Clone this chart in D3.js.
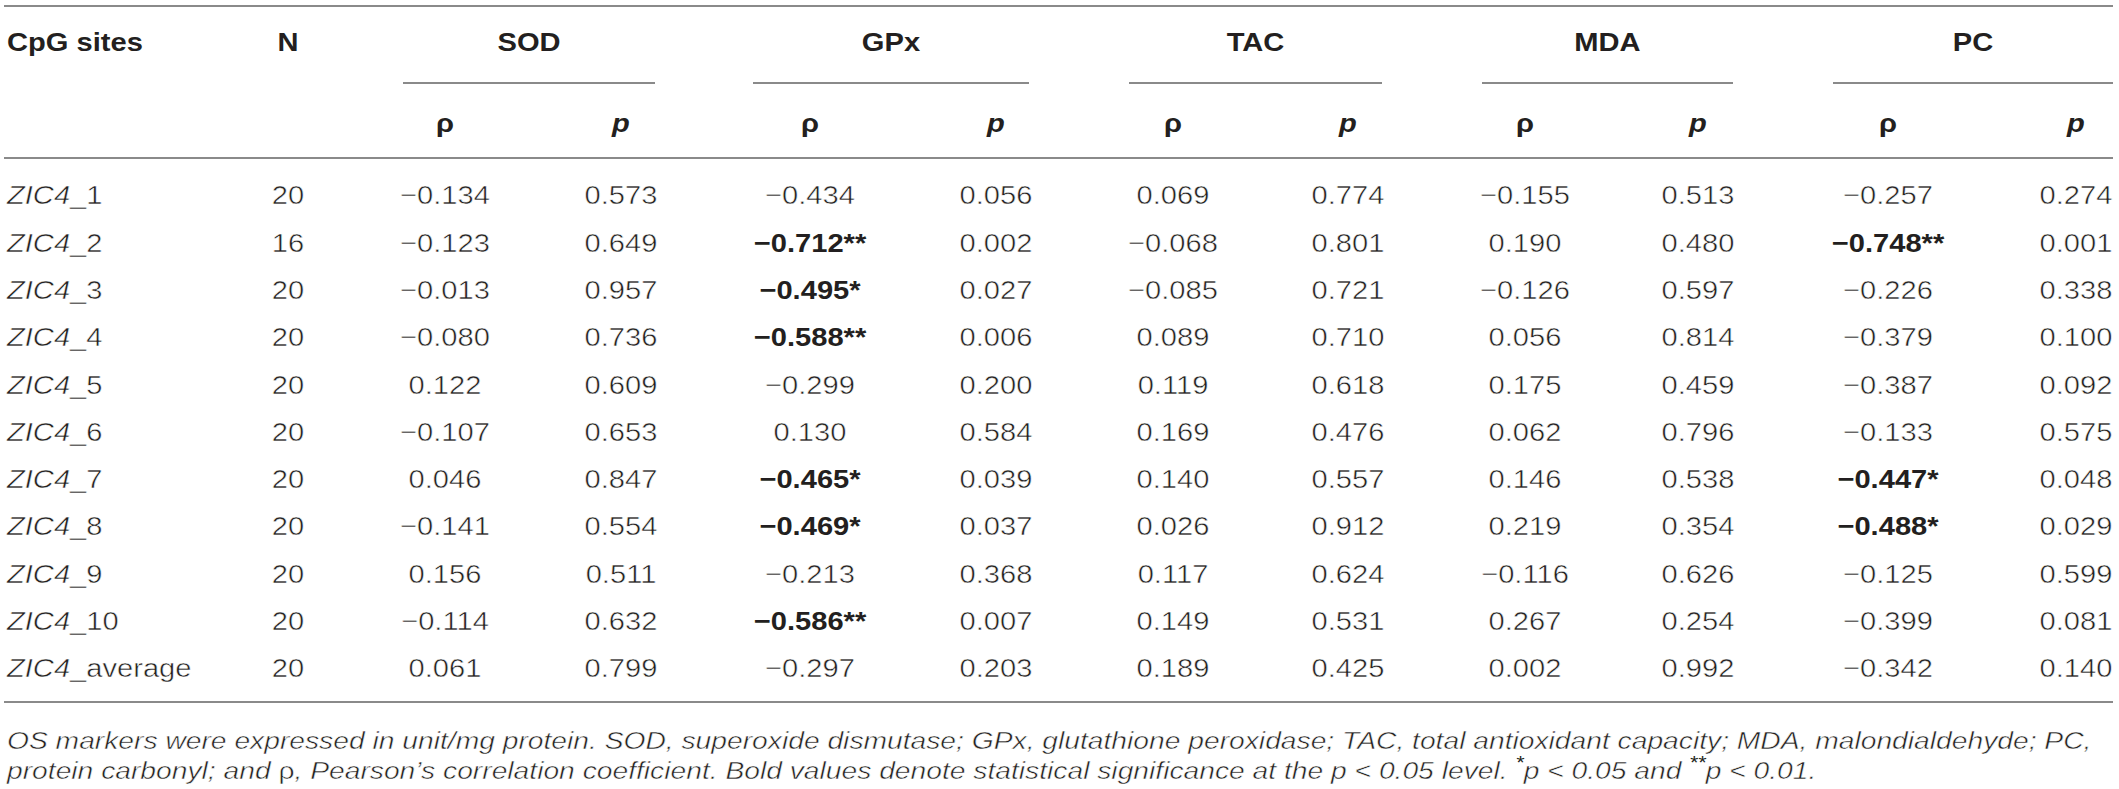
<!DOCTYPE html>
<html>
<head>
<meta charset="utf-8">
<script src="https://cdn.jsdelivr.net/npm/d3@7"></script>
<style>
  body { margin: 0; background: #fff; }
  svg { display: block; }
  text { font-family: "Liberation Sans", Arial, Helvetica, sans-serif; fill: #231f20; }
  /* the picture uses a light cut; thin the regular glyphs a little */
  .light { stroke: #fff; stroke-width: 0.5px; }
  .sup { stroke: none; }
</style>
</head>
<body>
<script>
// table data
const sites = ["_1", "_2", "_3", "_4", "_5", "_6", "_7", "_8", "_9", "_10", "_average"];
const nValues = [20, 16, 20, 20, 20, 20, 20, 20, 20, 20, 20];
const markers = ["SOD", "GPx", "TAC", "MDA", "PC"];

const sodRho = [-0.134, -0.123, -0.013, -0.080, 0.122, -0.107, 0.046, -0.141, 0.156, -0.114, 0.061];
const sodP   = [0.573, 0.649, 0.957, 0.736, 0.609, 0.653, 0.847, 0.554, 0.511, 0.632, 0.799];
const gpxRho = [-0.434, -0.712, -0.495, -0.588, -0.299, 0.130, -0.465, -0.469, -0.213, -0.586, -0.297];
const gpxP   = [0.056, 0.002, 0.027, 0.006, 0.200, 0.584, 0.039, 0.037, 0.368, 0.007, 0.203];
const tacRho = [0.069, -0.068, -0.085, 0.089, 0.119, 0.169, 0.140, 0.026, 0.117, 0.149, 0.189];
const tacP   = [0.774, 0.801, 0.721, 0.710, 0.618, 0.476, 0.557, 0.912, 0.624, 0.531, 0.425];
const mdaRho = [-0.155, 0.190, -0.126, 0.056, 0.175, 0.062, 0.146, 0.219, -0.116, 0.267, 0.002];
const mdaP   = [0.513, 0.480, 0.597, 0.814, 0.459, 0.796, 0.538, 0.354, 0.626, 0.254, 0.992];
const pcRho  = [-0.257, -0.748, -0.226, -0.379, -0.387, -0.133, -0.447, -0.488, -0.125, -0.399, -0.342];
const pcP    = [0.274, 0.001, 0.338, 0.100, 0.092, 0.575, 0.048, 0.029, 0.599, 0.081, 0.140];

const rhoByMarker = [sodRho, gpxRho, tacRho, mdaRho, pcRho];
const pByMarker = [sodP, gpxP, tacP, mdaP, pcP];

const note1 = "OS markers were expressed in unit/mg protein. SOD, superoxide dismutase; GPx, glutathione peroxidase; TAC, total antioxidant capacity; MDA, malondialdehyde; PC,";

// layout
const W = 2119, H = 789;
const SX = 1.12;          // glyphs in the picture are a little wider than tall
const FS = 26;
const lineColor = "#8a8a8a";

const svg = d3.select("body").append("svg")
    .attr("width", W)
    .attr("height", H);

// x centres of the columns
const rhoX = d3.scaleOrdinal().domain(markers).range([445, 810, 1173, 1525, 1888]);
const pX = d3.scaleOrdinal().domain(markers).range([621, 996, 1348, 1698, 2076]);
const groupSpan = d3.scaleOrdinal().domain(markers)
    .range([[403, 655], [753, 1029], [1129, 1382], [1482, 1733], [1833, 2113]]);
const nX = 288;

// y centres of the body rows
const y = d3.scaleLinear().domain([0, sites.length - 1]).range([195, 668]);
const base = 9.3; // centre -> baseline

const fmt = d3.format(".3f");

function txt(parent, x, yb, anchor) {
    return parent.append("text")
        .attr("transform", "translate(" + x + "," + yb + ") scale(" + SX + ",1)")
        .attr("text-anchor", anchor || "middle")
        .style("font-size", FS + "px");
}

function hline(x1, x2, yy) {
    svg.append("line")
        .attr("x1", x1).attr("x2", x2)
        .attr("y1", yy).attr("y2", yy)
        .attr("stroke", lineColor)
        .attr("stroke-width", 2);
}

// rules
hline(4, 2113, 6);
hline(4, 2113, 158);
hline(4, 2113, 702);
markers.forEach(m => {
    let s = groupSpan(m);
    hline(s[0], s[1], 83);
});

// header
let head = svg.append("g").style("font-weight", "bold");
txt(head, 7, 51, "start").text("CpG sites");
txt(head, nX, 51).text("N");
markers.forEach(m => {
    let s = groupSpan(m);
    txt(head, (s[0] + s[1]) / 2, 51).text(m);
    txt(head, rhoX(m), 132).text("ρ");
    txt(head, pX(m), 132).style("font-style", "italic").text("p");
});

// body rows
let body = svg.append("g");
let rows = body.selectAll(".row")
    .data(sites)
    .join("g")
    .attr("class", "row");

rows.each(function (site, i) {
    let g = d3.select(this);
    let yb = y(i) + base;
    let t = txt(g, 7, yb, "start").attr("class", "light");
    t.append("tspan").style("font-style", "italic").text("ZIC4");
    t.append("tspan").text(site);
    txt(g, nX, yb).attr("class", "light").text(nValues[i]);

    markers.forEach((m, k) => {
        let r = rhoByMarker[k][i], p = pByMarker[k][i];
        let stars = p < 0.01 ? "**" : p < 0.05 ? "*" : "";
        let rt = txt(g, rhoX(m), yb).text(fmt(r) + stars);
        if (stars) rt.style("font-weight", "bold");
        else rt.attr("class", "light");
        txt(g, pX(m), yb).attr("class", "light").text(fmt(p));
    });
});

// footnote
let notes = svg.append("g").style("font-style", "italic");
let n1 = notes.append("text")
    .attr("class", "light")
    .attr("text-anchor", "start")
    .style("font-size", "22px")
    .text(note1);
// fit the first line to the width it has in the picture
let w1 = n1.node().getComputedTextLength();
let noteScale = 2085 / w1;
let noteFS = 22 * Math.sqrt(noteScale * 0.95);
let noteSX = noteScale * 22 / noteFS;
n1.style("font-size", noteFS + "px")
    .attr("transform", "translate(7,749) scale(" + noteSX + ",1)");

let n2 = notes.append("text")
    .attr("class", "light")
    .attr("text-anchor", "start")
    .style("font-size", noteFS + "px")
    .attr("transform", "translate(7,779) scale(" + noteSX + ",1)");
n2.append("tspan").text("protein carbonyl; and ");
n2.append("tspan").style("font-style", "normal").text("ρ");
n2.append("tspan").text(", Pearson’s correlation coefficient. Bold values denote statistical significance at the p < 0.05 level. ");
n2.append("tspan").attr("class", "sup").attr("baseline-shift", "super").style("font-size", "75%").text("*");
n2.append("tspan").text("p < 0.05 and ");
n2.append("tspan").attr("class", "sup").attr("baseline-shift", "super").style("font-size", "75%").text("**");
n2.append("tspan").text("p < 0.01.");
// second line runs a little wider in the picture (ends near x = 1565)
let w2 = n2.node().getComputedTextLength();
let nChars = n2.text().length;
let extra = ((1565 - 7) / noteSX - w2) / nChars;
if (extra > 0) n2.style("letter-spacing", Math.min(extra, 1) + "px");
</script>
</body>
</html>
